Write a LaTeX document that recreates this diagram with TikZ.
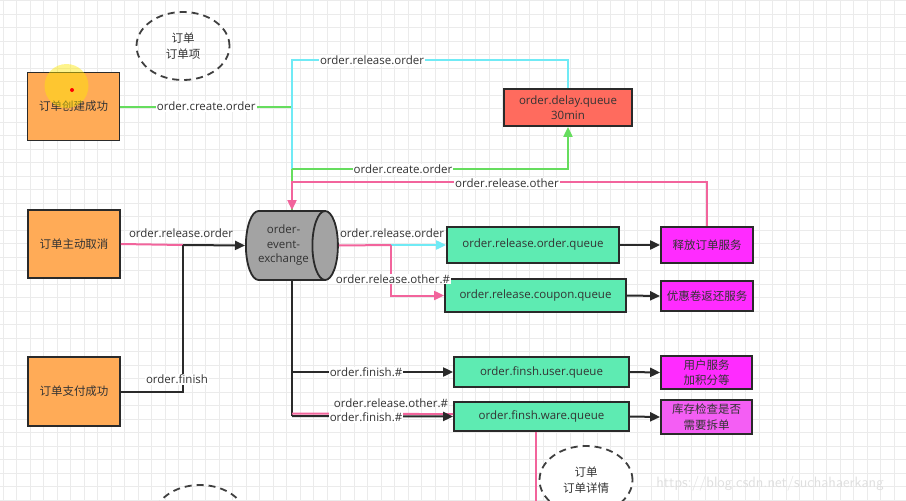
\documentclass[tikz,border=0pt]{standalone}
\usepackage{fontspec}
\setmainfont{Open Sans}
\newfontfamily\cjk{Noto Sans CJK SC}
\usetikzlibrary{shapes.geometric,arrows.meta}
\definecolor{orangeC}{HTML}{FFAB57}
\definecolor{mintC}{HTML}{5EEBB2}
\definecolor{magC}{HTML}{FF2BFF}
\definecolor{magTwo}{HTML}{F45EF4}
\definecolor{redC}{HTML}{FF6B5E}
\definecolor{greenL}{HTML}{66DD5E}
\definecolor{cyanL}{HTML}{70EAF5}
\definecolor{pinkL}{HTML}{F2649C}
\definecolor{exC}{HTML}{A3A3A3}
\definecolor{txt}{HTML}{333333}
\definecolor{edgeC}{HTML}{2A2A2A}
\definecolor{gridC}{HTML}{EBEBEB}
\newcommand\myfs{\fontsize{11.5}{15.5}\selectfont}
\begin{document}
\begin{tikzpicture}[x=1pt,y=-1pt,
  every node/.style={font=\myfs, text=txt, align=center, inner sep=1pt},
  box/.style={draw=edgeC, line width=1.8pt, inner sep=2pt},
  src/.style={box, fill=orangeC, minimum width=92pt, minimum height=68pt, font=\myfs\cjk},
  qbox/.style={box, fill=mintC, minimum height=31pt},
  svc/.style={box, fill=magC, minimum width=91pt, minimum height=33pt, font=\myfs\cjk},
  lbl/.style={fill=white, inner sep=1pt},
  conn/.style={line width=2pt},
  tip/.style={-{Triangle[length=10pt,width=9pt]}},
  dashell/.style={ellipse, draw=edgeC!90, line width=1.8pt, dash pattern=on 7pt off 5pt, minimum width=93pt, minimum height=68pt, font=\myfs\cjk, inner sep=0pt},
]
\useasboundingbox (0,0) rectangle (906,501);
\clip (0,0) rectangle (906,501);
\fill[white] (0,0) rectangle (906,501);
% grid
\foreach \i in {0,...,67} \draw[gridC, line width=0.8pt] (3+\i*13.5,0) -- (3+\i*13.5,501);
\foreach \j in {0,...,37} \draw[gridC, line width=0.8pt] (0,0.5+\j*13.5) -- (906,0.5+\j*13.5);

% nodes
\node[dashell] (e1) at (183,46) {订单\\订单项};
\node[dashell] (e3) at (200,519) {};

\node[src] (b1) at (73.5,106.5) {订单创建成功};
\node[src] (b2) at (74,244) {订单主动取消};
\node[src, minimum height=69pt] (b3) at (74,391.5) {订单支付成功};

\node[box, fill=redC, minimum width=128pt, minimum height=37pt] (dq) at (568,107.5) {order.delay.queue\\30min};

\node[cylinder, shape border rotate=0, draw=edgeC, line width=1.8pt, fill=exC, minimum width=69pt, minimum height=92pt, aspect=0.6, inner sep=1pt, anchor=west, font=\fontsize{11.5}{14.5}\selectfont] (ex) at (245,245.5) {order-\\event-\\exchange};

\node[qbox, minimum width=172pt, minimum height=36pt] (q1) at (533,245) {order.release.order.queue};
\node[qbox, minimum width=181pt, minimum height=33pt] (q2) at (535.5,295.5) {order.release.coupon.queue};
\node[qbox, minimum width=175pt, minimum height=30pt] (q3) at (541.5,372) {order.finsh.user.queue};
\node[qbox, minimum width=175pt, minimum height=29pt] (q4) at (541.5,416.5) {order.finsh.ware.queue};

\node[svc, minimum width=92pt, minimum height=36pt] (s1) at (707,245) {释放订单服务};
\node[svc, minimum width=92pt, minimum height=30pt] (s2) at (707,296) {优惠卷返还服务};
\node[svc] (s3) at (706.5,372.5) {用户服务\\加积分等};
\node[svc, fill=magTwo, minimum height=34pt] (s4) at (706.5,417) {库存检查是否\\需要拆单};

% highlight
\fill[yellow!90!orange, opacity=0.45] (66.5,86) circle (22);
\fill[red] (72,90) circle (2);

% junction coordinates
\coordinate (jA) at (292,106.5);
\coordinate (cTop) at (292,60);
\coordinate (jB) at (292,169);
\coordinate (pTop) at (292,182);
\coordinate (jC) at (183,245);
\coordinate (jD) at (391,245);
\coordinate (jE) at (292,372);
\coordinate (jF) at (292,416);
\coordinate (pEnd) at (536,501);

% top loop
\draw[conn, greenL] (b1.east) -- node[lbl]{order.create.order} (jA);
\draw[conn, cyanL] (dq.north) |- (cTop) -- (jB);
\node[lbl] at (372,60.5) {order.release.order};
\draw[conn, greenL] (jB) -- (jB |- ex.north);
\draw[conn, greenL, tip] (jB) -| (dq.south);
\node[lbl] at (403,169.5) {order.create.order};
\draw[conn, pinkL, tip] (s1.north) |- (pTop) -- (pTop |- ex.north);
\node[lbl] at (507,183.5) {order.release.other};

% inputs
\draw[conn, pinkL] (b2.east) -- (jC);
\node at (181,233) {order.release.order};
\draw[conn, edgeC] (b3.east) -| (jC);
\draw[conn, edgeC, tip] (jC) -- (ex.west);
\node[lbl] at (177,379.5) {order.finish};

% outputs (release)
\draw[conn, pinkL] (ex.east) -- (jD);
\draw[conn, cyanL, tip] (jD) -- (q1.west);
\draw[conn, pinkL, tip] (jD) |- (q2.west);
\node at (392,233) {order.release.order};
\node[lbl] at (393,279) {order.release.other.\#};

% outputs (finish)
\draw[conn, edgeC] (jE |- ex.south) -- (jE) -- (jF);
\draw[conn, edgeC, tip] (jE) -- (q3.west);
\draw[conn, pinkL] ([yshift=2.4pt]jF) -- ([yshift=2.4pt]q4.west);
\draw[conn, edgeC, tip] (jF) -- (q4.west);
\node[lbl] at (366,372.5) {order.finish.\#};
\node[lbl] at (366,417.5) {order.finish.\#};
\node at (391,403) {order.release.other.\#};

% queue -> services
\draw[conn, edgeC, tip] (q1.east) -- (s1.west);
\draw[conn, edgeC, tip] (q2.east) -- (s2.west);
\draw[conn, edgeC, tip] (q3.east) -- (s3.west);
\draw[conn, edgeC, tip] (q4.east) -- (s4.west);

% ware queue down
\draw[conn, pinkL] ([xshift=-5.5pt]q4.south) -- (pEnd);
\node[dashell, fill=white] (e2) at (586,480) {订单\\订单详情};

% watermark
\node[text=gray!25, font=\fontsize{15}{17}\selectfont\sffamily] at (770,484) {https://blog.csdn.net/suchahaerkang};
\end{tikzpicture}
\end{document}
